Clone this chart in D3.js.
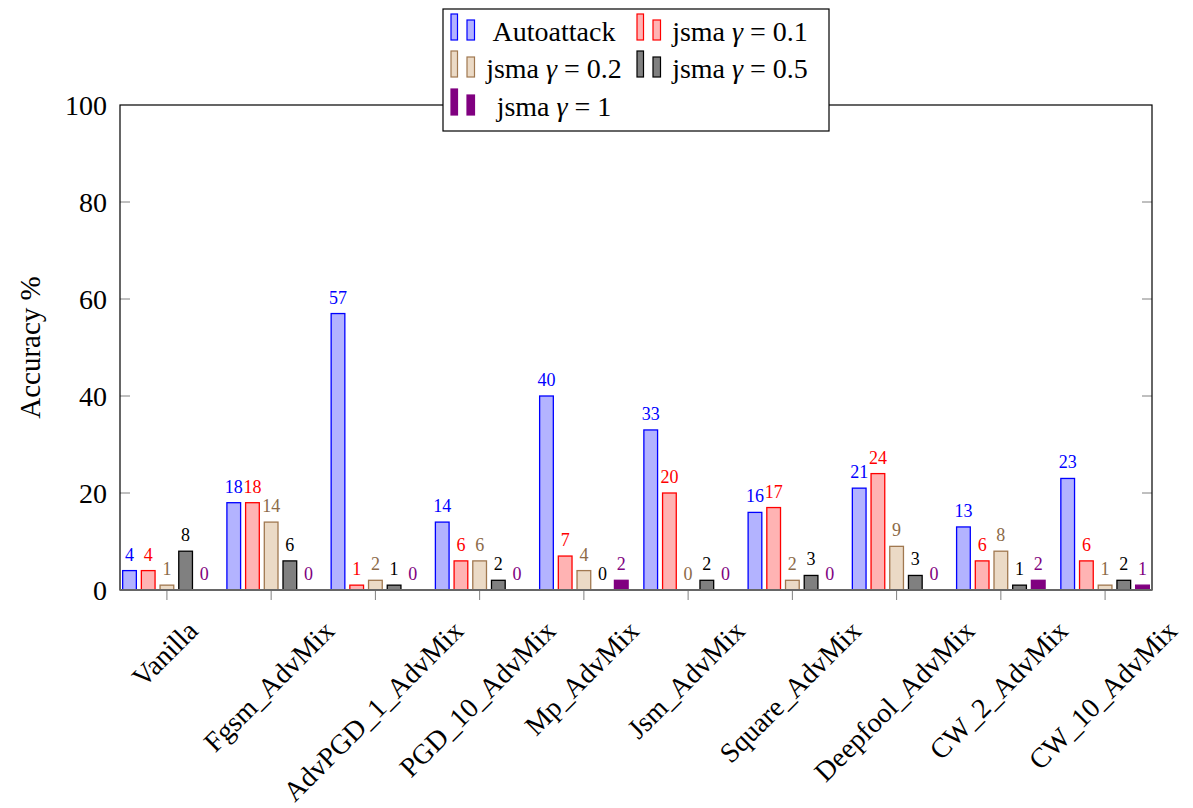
<!DOCTYPE html>
<html>
<head>
<meta charset="utf-8">
<script src="https://cdn.jsdelivr.net/npm/d3@7"></script>
<style>
  body { margin: 0; background: #fff; }
  text { font-family: "Liberation Serif", "DejaVu Serif", serif; }
</style>
</head>
<body>
<div id="chart"></div>
<script>
const width = 1193;
const height = 808;

const categories = ["Vanilla", "Fgsm_AdvMix", "AdvPGD_1_AdvMix", "PGD_10_AdvMix", "Mp_AdvMix",
                    "Jsm_AdvMix", "Square_AdvMix", "Deepfool_AdvMix", "CW_2_AdvMix", "CW_10_AdvMix"];
const seriesNames = ["Autoattack", "jsma γ = 0.1", "jsma γ = 0.2", "jsma γ = 0.5", "jsma γ = 1"];
const autoattack = [4, 18, 57, 14, 40, 33, 16, 21, 13, 23];
const jsma01 = [4, 18, 1, 6, 7, 20, 17, 24, 6, 6];
const jsma02 = [1, 14, 2, 6, 4, 0, 2, 9, 8, 1];
const jsma05 = [8, 6, 1, 2, 0, 2, 3, 3, 1, 2];
const jsma1 = [0, 0, 0, 0, 2, 0, 0, 0, 2, 1];
const yTicks = [0, 20, 40, 60, 80, 100];

const series = [autoattack, jsma01, jsma02, jsma05, jsma1];
const fills = ["#b3b3ff", "#ffb3b3", "#ebdac6", "#808080", "#800080"];
const strokes = ["#0000ff", "#ff0000", "#a07850", "#000000", "#800080"];
const labelColors = ["#0000ff", "#ff0000", "#8c6a48", "#000000", "#800080"];

const margin = {left: 120, right: 41, top: 105, bottom: 218};
const plotW = width - margin.left - margin.right;
const plotH = height - margin.top - margin.bottom;

const svg = d3.select("#chart").append("svg")
  .attr("width", width)
  .attr("height", height);

const x = d3.scalePoint().domain(categories).range([0, plotW]).padding(0.45);
const y = d3.scaleLinear().domain([0, 100]).range([plotH, 0]);
const barW = 13.7;
const barStep = 18.7;

const g = svg.append("g").attr("transform", `translate(${margin.left},${margin.top})`);

// ticks, inside on y, outside below on x
yTicks.forEach(t => {
  if (t === 0 || t === 100) return;
  g.append("line").attr("x1", 0).attr("x2", 10).attr("y1", y(t)).attr("y2", y(t))
    .attr("stroke", "#808080").attr("stroke-width", 1);
  g.append("line").attr("x1", plotW - 10).attr("x2", plotW).attr("y1", y(t)).attr("y2", y(t))
    .attr("stroke", "#808080").attr("stroke-width", 1);
});
categories.forEach(c => {
  g.append("line").attr("x1", x(c)).attr("x2", x(c)).attr("y1", plotH).attr("y2", plotH + 10)
    .attr("stroke", "#808080").attr("stroke-width", 1);
});

// bars
series.forEach((vals, s) => {
  const off = (s - 2) * barStep;
  g.selectAll(".bar" + s)
    .data(vals)
    .enter()
    .append("rect")
    .attr("x", (d, i) => x(categories[i]) + off - barW / 2)
    .attr("y", d => y(d))
    .attr("width", barW)
    .attr("height", d => plotH - y(d))
    .attr("fill", fills[s])
    .attr("stroke", strokes[s])
    .attr("stroke-width", 1.3);

  g.selectAll(".lab" + s)
    .data(vals)
    .enter()
    .append("text")
    .attr("x", (d, i) => x(categories[i]) + off)
    .attr("y", d => y(d) - 10)
    .attr("text-anchor", "middle")
    .attr("font-size", 18)
    .attr("fill", labelColors[s])
    .text(d => d);
});

// frame
g.append("rect").attr("x", 0).attr("y", 0).attr("width", plotW).attr("height", plotH)
  .attr("fill", "none").attr("stroke", "#000").attr("stroke-width", 1.2);
g.append("line").attr("x1", 0).attr("x2", plotW).attr("y1", plotH).attr("y2", plotH)
  .attr("stroke", "#666").attr("stroke-width", 2);

// y tick labels
yTicks.forEach(t => {
  g.append("text")
    .attr("x", -13)
    .attr("y", y(t))
    .attr("dy", "0.35em")
    .attr("text-anchor", "end")
    .attr("font-size", 28)
    .text(t);
});

// x tick labels, rotated, centred on the tick
categories.forEach(c => {
  const t = g.append("text")
    .attr("text-anchor", "middle")
    .attr("dominant-baseline", "middle")
    .attr("font-size", 28)
    .text(c);
  const L = t.node().getComputedTextLength();
  const cy = plotH + 38 + (L / 2) * Math.SQRT1_2;
  t.attr("transform", `translate(${x(c)},${cy}) rotate(-45)`);
});

// y label
svg.append("text")
  .attr("transform", `translate(40,${margin.top + y(50)}) rotate(-90)`)
  .attr("text-anchor", "middle")
  .attr("font-size", 29)
  .text("Accuracy %");

// legend
const legend = svg.append("g").attr("transform", "translate(443,9)");
legend.append("rect").attr("width", 386).attr("height", 122)
  .attr("fill", "#fff").attr("stroke", "#000").attr("stroke-width", 1.2);

const colX = [0, 186];
const rowBase = [31, 68, 106];
seriesNames.forEach((name, s) => {
  const col = s % 2, row = Math.floor(s / 2);
  const bx = colX[col] + 8;
  const base = rowBase[row];
  legend.append("rect").attr("x", bx).attr("y", base - 26).attr("width", 6.5).attr("height", 26)
    .attr("fill", fills[s]).attr("stroke", strokes[s]).attr("stroke-width", 1.2);
  legend.append("rect").attr("x", bx + 16).attr("y", base - 20).attr("width", 7.5).attr("height", 20)
    .attr("fill", fills[s]).attr("stroke", strokes[s]).attr("stroke-width", 1.2);
  const parts = name.split("γ");
  const txt = legend.append("text")
    .attr("x", colX[col] + 111)
    .attr("y", base + 1)
    .attr("text-anchor", "middle")
    .attr("font-size", 28);
  txt.append("tspan").text(parts[0]);
  if (parts.length > 1) {
    txt.append("tspan").attr("font-style", "italic").text("γ");
    txt.append("tspan").text(parts[1]);
  }
});
</script>
</body>
</html>
